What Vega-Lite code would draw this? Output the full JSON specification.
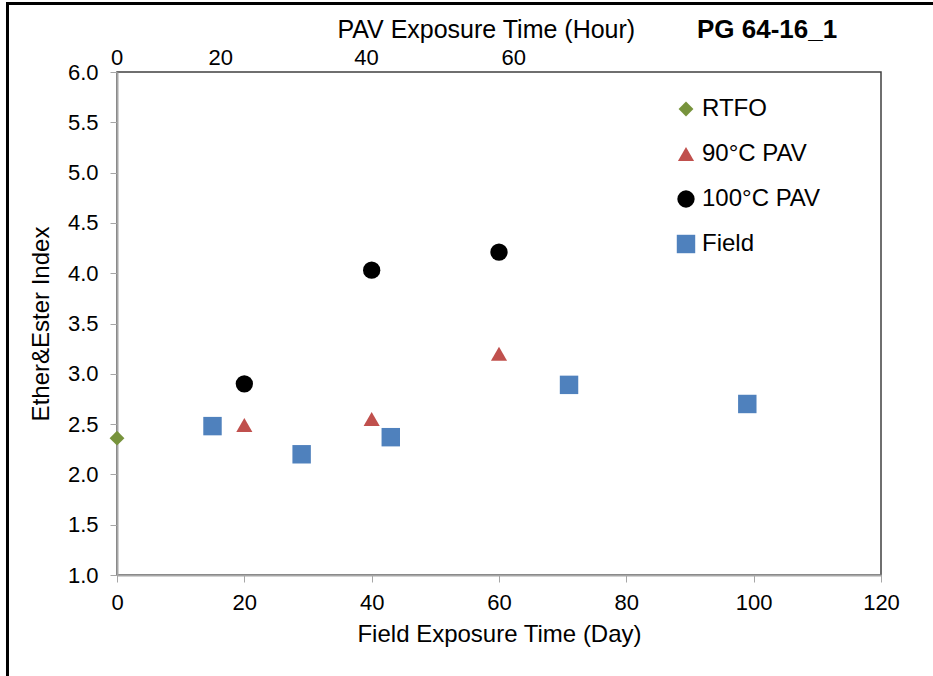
{
  "$schema": "https://vega.github.io/schema/vega-lite/v6.json",
  "width": 764,
  "height": 503,
  "autosize": {"type": "none"},
  "padding": {"left": 117, "top": 72, "right": 52, "bottom": 101},
  "background": "white",
  "config": {
    "font": "Liberation Sans",
    "view": {"stroke": "#404040", "strokeWidth": 1.5}
  },
  "datasets": {
    "points": [
      {"series": "RTFO", "day": 0, "index": 2.36},
      {"series": "90°C PAV", "day": 20, "index": 2.49},
      {"series": "90°C PAV", "day": 40, "index": 2.55},
      {"series": "90°C PAV", "day": 60, "index": 3.2},
      {"series": "100°C PAV", "day": 20, "index": 2.9},
      {"series": "100°C PAV", "day": 40, "index": 4.03},
      {"series": "100°C PAV", "day": 60, "index": 4.21},
      {"series": "Field", "day": 15, "index": 2.48},
      {"series": "Field", "day": 29, "index": 2.2},
      {"series": "Field", "day": 43, "index": 2.37},
      {"series": "Field", "day": 71, "index": 2.89},
      {"series": "Field", "day": 99, "index": 2.7}
    ],
    "toplabels": [
      {"label": "0", "day": 0, "index": 6.14},
      {"label": "20", "day": 16.3, "index": 6.14},
      {"label": "40", "day": 39.2, "index": 6.14},
      {"label": "60", "day": 62.3, "index": 6.14}
    ]
  },
  "layer": [
    {
      "data": {"name": "points"},
      "mark": {"type": "point", "filled": true, "opacity": 1, "clip": false},
      "encoding": {
        "x": {
          "field": "day", "type": "quantitative",
          "scale": {"domain": [0, 120], "nice": false, "zero": false},
          "axis": {
            "title": "Field Exposure Time (Day)",
            "values": [0, 20, 40, 60, 80, 100, 120],
            "grid": false,
            "labelFlush": false,
            "domainColor": "#a6a6a6", "domainWidth": 2,
            "tickColor": "#a6a6a6", "tickSize": 7, "tickWidth": 1,
            "labelFontSize": 22, "labelColor": "#000000", "labelPadding": 10,
            "titleFontSize": 24, "titleFontWeight": "normal", "titleColor": "#000000", "titlePadding": 9
          }
        },
        "y": {
          "field": "index", "type": "quantitative",
          "scale": {"domain": [1, 6], "nice": false, "zero": false},
          "axis": {
            "title": "Ether&Ester Index",
            "values": [1, 1.5, 2, 2.5, 3, 3.5, 4, 4.5, 5, 5.5, 6],
            "format": ".1f",
            "grid": false,
            "labelFlush": false,
            "domainColor": "#a6a6a6", "domainWidth": 2,
            "tickColor": "#a6a6a6", "tickSize": 7, "tickWidth": 1,
            "labelFontSize": 22, "labelColor": "#000000", "labelPadding": 12,
            "titleFontSize": 24, "titleFontWeight": "normal", "titleColor": "#000000", "titlePadding": 14
          }
        },
        "shape": {
          "field": "series", "type": "nominal",
          "scale": {
            "domain": ["RTFO", "90°C PAV", "100°C PAV", "Field"],
            "range": ["diamond", "triangle-up", "circle", "square"]
          },
          "legend": {
            "title": null,
            "orient": "none",
            "legendX": 557,
            "legendY": 25,
            "labelFontSize": 24,
            "labelColor": "#000000",
            "symbolSize": 170,
            "rowPadding": 21,
            "labelOffset": 4,
            "symbolStrokeWidth": 0
          }
        },
        "color": {
          "field": "series", "type": "nominal",
          "scale": {
            "domain": ["RTFO", "90°C PAV", "100°C PAV", "Field"],
            "range": ["#77933C", "#C0504D", "#000000", "#4F81BD"]
          },
          "legend": {
            "title": null,
            "orient": "none",
            "legendX": 557,
            "legendY": 25,
            "labelFontSize": 24,
            "labelColor": "#000000",
            "symbolSize": 170,
            "rowPadding": 21,
            "labelOffset": 4,
            "symbolStrokeWidth": 0
          }
        },
        "size": {
          "field": "series", "type": "nominal",
          "scale": {
            "domain": ["RTFO", "90°C PAV", "100°C PAV", "Field"],
            "range": [220, 340, 420, 380]
          },
          "legend": null
        }
      }
    },
    {
      "data": {"name": "toplabels"},
      "mark": {"type": "text", "fontSize": 22, "color": "#000000", "baseline": "middle", "align": "center", "clip": false},
      "encoding": {
        "x": {"field": "day", "type": "quantitative"},
        "y": {"field": "index", "type": "quantitative"},
        "text": {"field": "label"}
      }
    },
    {
      "data": {"values": [{"t": "PAV Exposure Time (Hour)"}]},
      "mark": {"type": "text", "fontSize": 25, "color": "#000000", "baseline": "middle", "align": "center", "clip": false},
      "encoding": {
        "x": {"datum": 58},
        "y": {"datum": 6.42},
        "text": {"field": "t"}
      }
    },
    {
      "data": {"values": [{"t": "PG 64-16_1"}]},
      "mark": {"type": "text", "fontSize": 26, "fontWeight": "bold", "color": "#000000", "baseline": "middle", "align": "center", "clip": false},
      "encoding": {
        "x": {"datum": 102.1},
        "y": {"datum": 6.42},
        "text": {"field": "t"}
      }
    },
    {
      "data": {"values": [{}]},
      "mark": {"type": "rect", "fill": null, "stroke": "#000000", "strokeWidth": 3, "clip": false},
      "encoding": {
        "x": {"datum": -17.2},
        "x2": {"datum": 140},
        "y": {"datum": 6.68},
        "y2": {"datum": -0.6}
      }
    }
  ]
}
